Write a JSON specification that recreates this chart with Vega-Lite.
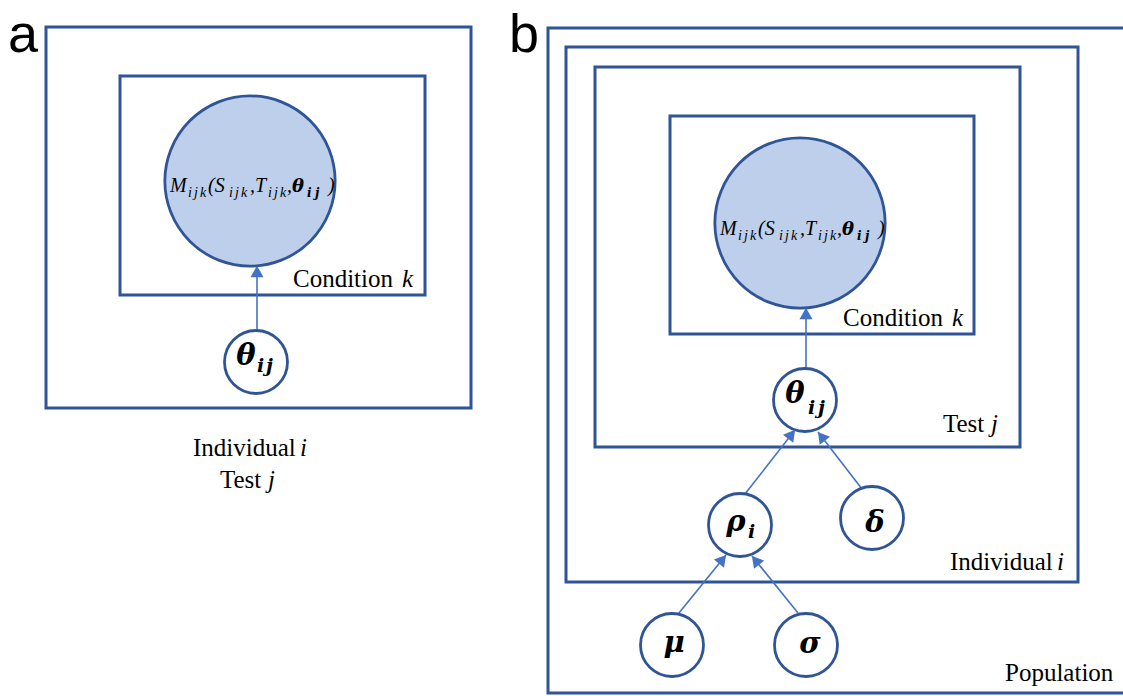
{
  "$schema": "https://vega.github.io/schema/vega-lite/v6.json",
  "width": 1123,
  "height": 696,
  "padding": 0,
  "autosize": {"type": "none"},
  "background": "white",
  "config": {"view": {"stroke": null}},
  "datasets": {
    "rects": [
      {"x": 46, "x2": 471, "y": 27, "y2": 408},
      {"x": 120, "x2": 425, "y": 76, "y2": 295},
      {"x": 548, "x2": 1140, "y": 28, "y2": 693},
      {"x": 566, "x2": 1078, "y": 47, "y2": 582},
      {"x": 595, "x2": 1020, "y": 67, "y2": 447},
      {"x": 670, "x2": 974, "y": 116, "y2": 334}
    ],
    "bigNodes": [{"x": 250, "y": 181}, {"x": 800, "y": 223}],
    "nodes": [
      {"x": 256, "y": 362}, {"x": 805, "y": 400}, {"x": 740, "y": 525},
      {"x": 872, "y": 518}, {"x": 672, "y": 645}, {"x": 806, "y": 645}
    ],
    "edges": [
      {"x": 257, "y": 331, "x2": 257, "y2": 266},
      {"x": 806, "y": 369, "x2": 806, "y2": 308},
      {"x": 745, "y": 494, "x2": 795, "y2": 430},
      {"x": 862, "y": 489, "x2": 818, "y2": 432},
      {"x": 679, "y": 613, "x2": 726, "y2": 555},
      {"x": 798, "y": 613, "x2": 752, "y2": 556}
    ],
    "heads": [
      {"x": 257, "y": 271.5, "angle": 0},
      {"x": 806, "y": 313.5, "angle": 0},
      {"x": 791.6, "y": 434.3, "angle": 38},
      {"x": 821.4, "y": 436.4, "angle": 322},
      {"x": 722.5, "y": 559.3, "angle": 39},
      {"x": 755.5, "y": 560.3, "angle": 321}
    ],
    "mathMain": [
      {"x": 170, "y": 192, "t": "M"}, {"x": 208, "y": 192, "t": "(S"}, {"x": 250, "y": 192, "t": ",T"},
      {"x": 287, "y": 192, "t": ","}, {"x": 328, "y": 192, "t": ")"},
      {"x": 720, "y": 235, "t": "M"}, {"x": 758, "y": 235, "t": "(S"}, {"x": 800, "y": 235, "t": ",T"},
      {"x": 837, "y": 235, "t": ","}, {"x": 878, "y": 235, "t": ")"}
    ],
    "mathSub": [
      {"x": 188, "y": 197, "t": "i"}, {"x": 194, "y": 197, "t": "j"}, {"x": 200, "y": 197, "t": "k"},
      {"x": 229, "y": 197, "t": "i"}, {"x": 235, "y": 197, "t": "j"}, {"x": 241, "y": 197, "t": "k"},
      {"x": 268, "y": 197, "t": "i"}, {"x": 274, "y": 197, "t": "j"}, {"x": 280, "y": 197, "t": "k"},
      {"x": 738, "y": 240, "t": "i"}, {"x": 744, "y": 240, "t": "j"}, {"x": 750, "y": 240, "t": "k"},
      {"x": 779, "y": 240, "t": "i"}, {"x": 785, "y": 240, "t": "j"}, {"x": 791, "y": 240, "t": "k"},
      {"x": 818, "y": 240, "t": "i"}, {"x": 824, "y": 240, "t": "j"}, {"x": 830, "y": 240, "t": "k"}
    ],
    "mathBold": [{"x": 292, "y": 192, "t": "θ"}, {"x": 842, "y": 235, "t": "θ"}],
    "mathBoldSub": [
      {"x": 307, "y": 197, "t": "i"}, {"x": 315, "y": 197, "t": "j"},
      {"x": 857, "y": 240, "t": "i"}, {"x": 865, "y": 240, "t": "j"}
    ],
    "greek": [
      {"x": 246, "y": 365, "t": "θ"}, {"x": 795, "y": 403, "t": "θ"}, {"x": 736, "y": 531, "t": "ρ"},
      {"x": 875, "y": 532, "t": "δ"}, {"x": 674, "y": 652, "t": "μ"}, {"x": 810, "y": 653, "t": "σ"}
    ],
    "greekSub": [
      {"x": 257, "y": 372, "t": "i"}, {"x": 266, "y": 372, "t": "j"},
      {"x": 808, "y": 414, "t": "i"}, {"x": 818, "y": 414, "t": "j"},
      {"x": 748, "y": 538, "t": "i"}
    ],
    "labels": [
      {"x": 293, "y": 287, "t": "Condition"}, {"x": 193, "y": 456, "t": "Individual"},
      {"x": 220, "y": 488, "t": "Test"}, {"x": 843, "y": 326, "t": "Condition"},
      {"x": 943, "y": 432, "t": "Test"}, {"x": 950, "y": 570, "t": "Individual"},
      {"x": 1005, "y": 681, "t": "Population"}
    ],
    "labelItalic": [
      {"x": 402, "y": 287, "t": "k"}, {"x": 300, "y": 456, "t": "i"}, {"x": 268, "y": 488, "t": "j"},
      {"x": 952, "y": 326, "t": "k"}, {"x": 991, "y": 432, "t": "j"}, {"x": 1057, "y": 570, "t": "i"}
    ],
    "panels": [{"x": 8, "y": 52, "t": "a"}, {"x": 509, "y": 52, "t": "b"}]
  },
  "encoding": {
    "x": {"field": "x", "type": "quantitative", "scale": {"domain": [0, 1123], "nice": false, "zero": false}, "axis": null},
    "y": {"field": "y", "type": "quantitative", "scale": {"domain": [0, 696], "nice": false, "zero": false, "reverse": true}, "axis": null}
  },
  "layer": [
    {
      "data": {"name": "rects"},
      "mark": {"type": "rect", "fill": "transparent", "stroke": "#2F5597", "strokeWidth": 3},
      "encoding": {"x2": {"field": "x2"}, "y2": {"field": "y2"}}
    },
    {
      "data": {"name": "edges"},
      "mark": {"type": "rule", "color": "#4472C4", "strokeWidth": 1.6},
      "encoding": {"x2": {"field": "x2"}, "y2": {"field": "y2"}}
    },
    {
      "data": {"name": "bigNodes"},
      "mark": {"type": "point", "shape": "circle", "filled": true, "fill": "#BDCFEA", "fillOpacity": 1, "stroke": "#2F5597", "strokeWidth": 2.8, "size": 29000, "opacity": 1}
    },
    {
      "data": {"name": "nodes"},
      "mark": {"type": "point", "shape": "circle", "filled": true, "fill": "white", "fillOpacity": 1, "stroke": "#2F5597", "strokeWidth": 2.8, "size": 3969, "opacity": 1}
    },
    {
      "data": {"name": "heads"},
      "mark": {"type": "point", "shape": "triangle-up", "filled": true, "color": "#4472C4", "size": 170, "opacity": 1},
      "encoding": {"angle": {"field": "angle", "type": "quantitative", "scale": null}}
    },
    {
      "data": {"name": "mathMain"},
      "mark": {"type": "text", "align": "left", "baseline": "alphabetic", "font": "Liberation Serif, Times New Roman, serif", "fontStyle": "italic", "fontSize": 20, "color": "black"},
      "encoding": {"text": {"field": "t"}}
    },
    {
      "data": {"name": "mathSub"},
      "mark": {"type": "text", "align": "left", "baseline": "alphabetic", "font": "Liberation Serif, Times New Roman, serif", "fontStyle": "italic", "fontSize": 14, "color": "black"},
      "encoding": {"text": {"field": "t"}}
    },
    {
      "data": {"name": "mathBold"},
      "mark": {"type": "text", "align": "left", "baseline": "alphabetic", "font": "DejaVu Serif, serif", "fontStyle": "italic", "fontWeight": "bold", "fontSize": 18, "color": "black"},
      "encoding": {"text": {"field": "t"}}
    },
    {
      "data": {"name": "mathBoldSub"},
      "mark": {"type": "text", "align": "left", "baseline": "alphabetic", "font": "DejaVu Serif, serif", "fontStyle": "italic", "fontWeight": "bold", "fontSize": 12, "color": "black"},
      "encoding": {"text": {"field": "t"}}
    },
    {
      "data": {"name": "greek"},
      "mark": {"type": "text", "align": "center", "baseline": "alphabetic", "font": "DejaVu Serif, serif", "fontStyle": "italic", "fontWeight": "bold", "fontSize": 29, "color": "black"},
      "encoding": {"text": {"field": "t"}}
    },
    {
      "data": {"name": "greekSub"},
      "mark": {"type": "text", "align": "left", "baseline": "alphabetic", "font": "DejaVu Serif, serif", "fontStyle": "italic", "fontWeight": "bold", "fontSize": 19, "color": "black"},
      "encoding": {"text": {"field": "t"}}
    },
    {
      "data": {"name": "labels"},
      "mark": {"type": "text", "align": "left", "baseline": "alphabetic", "font": "Liberation Serif, Times New Roman, serif", "fontSize": 25, "color": "black"},
      "encoding": {"text": {"field": "t"}}
    },
    {
      "data": {"name": "labelItalic"},
      "mark": {"type": "text", "align": "left", "baseline": "alphabetic", "font": "Liberation Serif, Times New Roman, serif", "fontStyle": "italic", "fontSize": 25, "color": "black"},
      "encoding": {"text": {"field": "t"}}
    },
    {
      "data": {"name": "panels"},
      "mark": {"type": "text", "align": "left", "baseline": "alphabetic", "font": "Liberation Sans, Arial, sans-serif", "fontSize": 54, "color": "black"},
      "encoding": {"text": {"field": "t"}}
    }
  ]
}
